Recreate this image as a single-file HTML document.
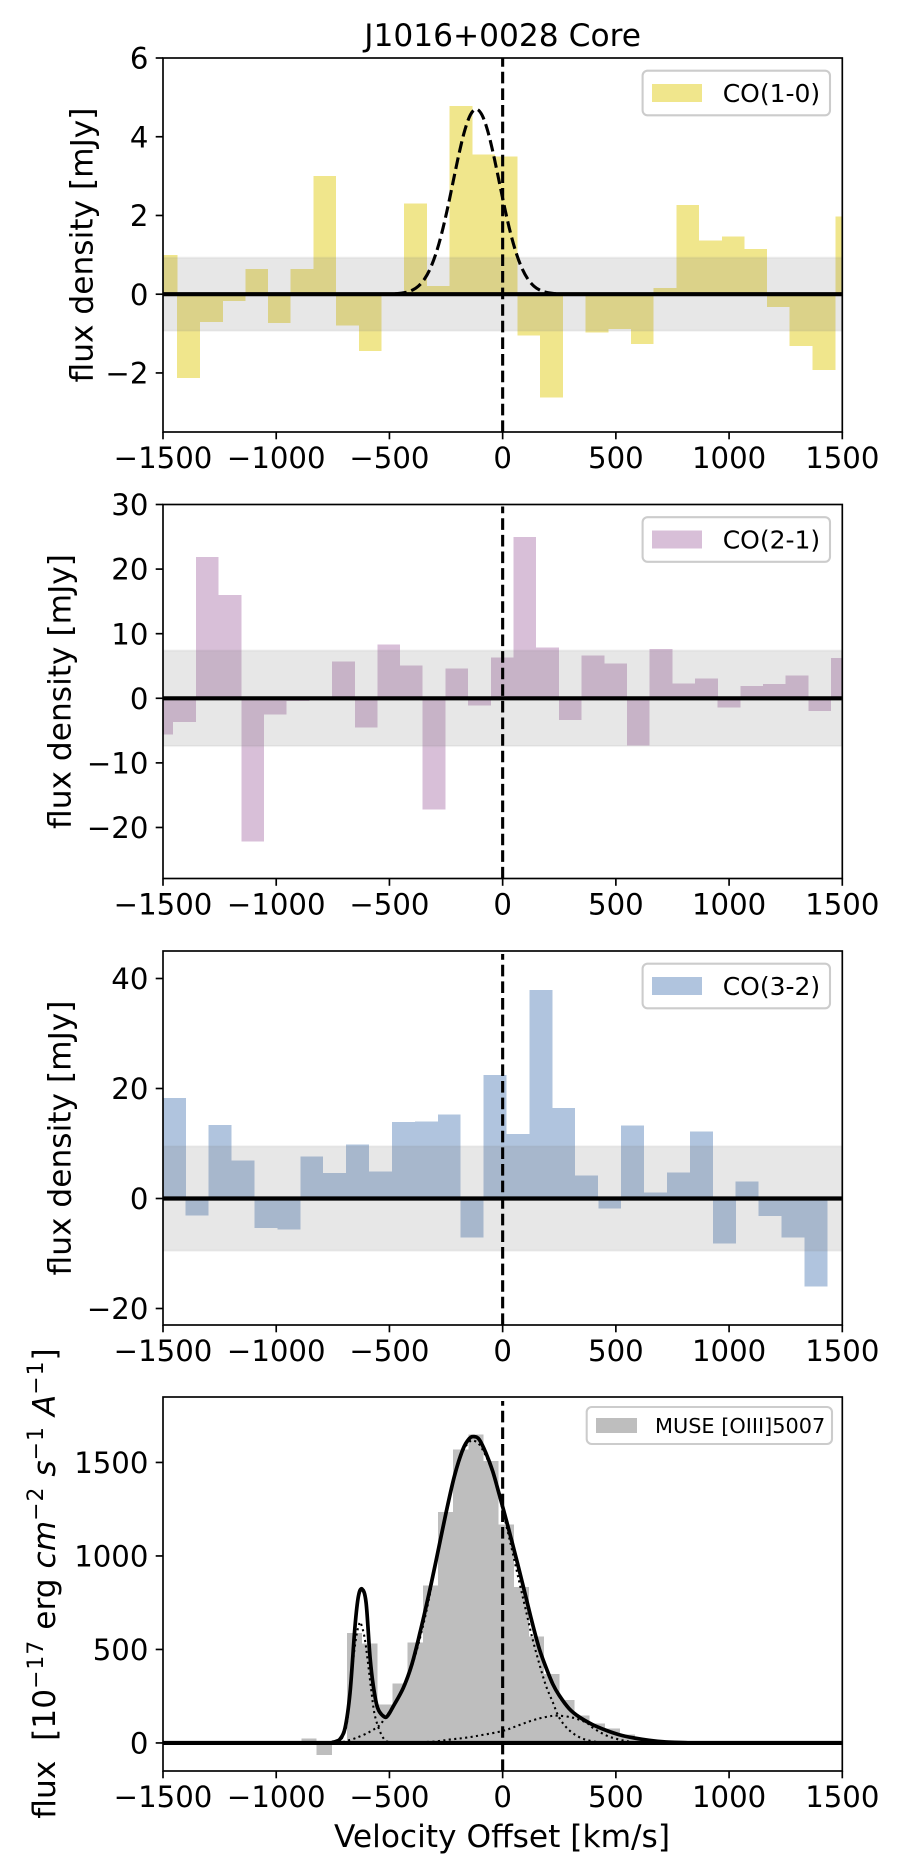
<!DOCTYPE html>
<html lang="en">
<head>
<meta charset="utf-8">
<title>J1016+0028 Core</title>
<style>
html,body{margin:0;padding:0;background:#fff;}
svg{display:block;}
text{font-family:"DejaVu Sans","Liberation Sans",sans-serif;fill:#000;}
</style>
</head>
<body>
<svg id="figure" xmlns="http://www.w3.org/2000/svg" width="900" height="1875" viewBox="0 0 900 1875">
  <rect x="0" y="0" width="900" height="1875" fill="#fff"/>
  <text x="502.6" y="46" font-size="31.25" text-anchor="middle">J1016+0028 Core</text>
  <text transform="translate(92.5,245) rotate(-90)" font-size="31.25" text-anchor="middle">flux density [mJy]</text>
  <text transform="translate(70.4,691.5) rotate(-90)" font-size="31.25" text-anchor="middle">flux density [mJy]</text>
  <text transform="translate(70.4,1138) rotate(-90)" font-size="31.25" text-anchor="middle">flux density [mJy]</text>
  <text transform="translate(55,1583.5) rotate(-90)" font-size="31.25" text-anchor="middle" xml:space="preserve">flux  [10<tspan font-size="21.9" dy="-12" letter-spacing="1">−17</tspan><tspan dy="12"> erg </tspan><tspan font-style="italic">cm</tspan><tspan font-size="21.9" dy="-12" letter-spacing="1">−2</tspan><tspan dy="12"> </tspan><tspan font-style="italic">s</tspan><tspan font-size="21.9" dy="-12" letter-spacing="1">−1</tspan><tspan dy="12"> </tspan><tspan font-style="italic">A</tspan><tspan font-size="21.9" dy="-12" letter-spacing="1">−1</tspan><tspan dy="12">]</tspan></text>
  <text x="502" y="1847" font-size="31.25" text-anchor="middle">Velocity Offset [km/s]</text>
</svg>
<script>
// ---- shared axis data ----
const xTickValues = [-1500, -1000, -500, 0, 500, 1000, 1500];
const xTickLabels = ['−1500', '−1000', '−500', '0', '500', '1000', '1500'];
const xLimits = [-1500, 1500];

// ---- CO(1-0) ----
const co10Velocity = [-1487,-1387,-1286,-1186,-1086,-986,-886,-785,-685,-585,-485,-385,-285,-184,-84,16,116,216,317,417,517,617,717,818,918,1018,1118,1218,1318,1419,1519];
const co10Flux = [1.0,-2.13,-0.7,-0.17,0.64,-0.73,0.64,3.0,-0.8,-1.44,0.02,2.3,0.21,4.78,3.55,3.5,-1.05,-2.63,0,-0.97,-0.88,-1.26,0.16,2.27,1.36,1.46,1.15,-0.32,-1.31,-1.92,1.97];
const co10BinWidth = [100.2];
const co10Noise = [0.93];
const co10YLimits = [-3.5, 6];
const co10YTicks = [-2, 0, 2, 4, 6];
const co10YTickLabels = ['−2', '0', '2', '4', '6'];
const co10FitVelocity = [-1500,-525,-474,-423,-397.5,-372,-346.5,-321,-295.5,-270,-244.5,-219,-193.5,-168,-142.5,-117,-91.5,-66,-40.5,-15,10.5,36,61.5,87,112.5,138,163.5,189,240,291,1500];
const co10FitFlux = [0,0.001,0.01,0.052,0.107,0.206,0.374,0.636,1.017,1.526,2.152,2.851,3.548,4.148,4.555,4.7,4.555,4.148,3.548,2.851,2.152,1.526,1.017,0.636,0.374,0.206,0.107,0.052,0.01,0.001,0];

// ---- CO(2-1) ----
const co21Velocity = [-1505,-1405,-1305,-1204,-1104,-1004,-904,-804,-703,-603,-503,-403,-303,-203,-102,-2,98,198,299,399,499,599,699,800,900,1000,1100,1200,1300,1401,1501];
const co21Flux = [-5.6,-3.7,21.9,16,-22.2,-2.5,-0.4,0,5.7,-4.5,8.3,5.1,-17.2,4.6,-1.1,6.3,25,7.9,-3.4,6.6,5.4,-7.3,7.6,2.3,3.1,-1.4,1.9,2.2,3.5,-2.0,6.2];
const co21BinWidth = [100.2];
const co21Noise = [7.4];
const co21YLimits = [-27.9, 30];
const co21YTicks = [-20, -10, 0, 10, 20, 30];
const co21YTickLabels = ['−20', '−10', '0', '10', '20', '30'];

// ---- CO(3-2) ----
const co32Velocity = [-1450,-1349,-1248,-1147,-1046,-944,-843,-742,-641,-539,-438,-337,-236,-135,-33,68,169,270,371,473,574,675,776,878,979,1080,1181,1282,1384,1485];
const co32Flux = [18.3,-3.1,13.4,6.9,-5.4,-5.6,7.6,4.6,9.8,4.9,13.9,14.0,15.3,-7.1,22.5,11.7,37.9,16.5,4.2,-1.8,13.3,1.1,4.7,12.2,-8.2,3.1,-3.2,-7.1,-16,0.3];
const co32BinWidth = [101.2];
const co32Noise = [9.5];
const co32YLimits = [-23, 45];
const co32YTicks = [-20, 0, 20, 40];
const co32YTickLabels = ['−20', '0', '20', '40'];

// ---- MUSE [OIII]5007 ----
const museVelocity = [-1466,-855,-788,-721,-654,-587,-520,-453,-386,-319,-252,-185,-118,-51,16,83,150,217,284,351,418,485,552,619,686];
const museFlux = [10,23,-64,0,588,531,205,317,538,841,1235,1569,1649,1507,1169,835,569,370,231,147,103,76,44,23,10];
const museBinWidth = [67];
const museYLimits = [-150, 1850];
const museYTicks = [0, 500, 1000, 1500];
const museYTickLabels = ['0', '500', '1000', '1500'];
const museTotalVelocity = [-1500,-800,-750,-735,-718,-696,-674,-652,-637,-621,-603,-586,-571,-552,-522,-505,-483,-439,-401,-365,-325,-294,-250,-213,-176,-147,-125,-103,-74,-44,-15,15,44,74,103,132,162,191,221,250,294,338,397,456,515,574,647,721,794,900,1500];
const museTotalFlux = [0,0,4,9,21,80,269,624,784,823,749,463,303,187,139,150,196,294,420,590,800,975,1231,1427,1569,1628,1638,1622,1551,1453,1329,1196,1063,920,778,636,503,405,316,254,183,139,98,68,44,28,14,5,2,0,0];
const museNarrowVelocity = [-750,-721,-691,-676,-662,-647,-635,-627,-610,-596,-581,-566,-544,-522,-500,-478];
const museNarrowFlux = [0,5,85,245,423,565,630,642,565,441,290,156,68,18,4,0];
const museBroadVelocity = [-706,-647,-588,-544,-522,-471,-426,-382,-338,-294,-250,-213,-176,-147,-129,-103,-74,-44,-15,15,44,74,103,132,162,191,221,250,294,353,426,500];
const museBroadFlux = [5,27,59,94,130,219,325,485,698,965,1222,1418,1557,1610,1617,1596,1534,1445,1320,1169,1018,858,707,556,423,307,219,135,68,23,4,0];
const museWingVelocity = [-456,-309,-235,-162,-88,0,59,132,191,243,309,368,397,456,515,574,632];
const museWingFlux = [0,7,18,28,43,64,89,121,139,146,135,110,82,41,18,5,0];

// ---- layout ----
const AX_LEFT = 163, AX_RIGHT = 842.3, AX_H = 374;
const panelTops = [58, 504.5, 951, 1397];
const NS = 'http://www.w3.org/2000/svg';
const fig = document.getElementById('figure');

function make(tag, attrs, parent) {
  const el = document.createElementNS(NS, tag);
  for (const k in attrs) el.setAttribute(k, attrs[k]);
  (parent || fig).appendChild(el);
  return el;
}
function xScale(v) {
  return AX_LEFT + (v - xLimits[0]) / (xLimits[1] - xLimits[0]) * (AX_RIGHT - AX_LEFT);
}
function yScaleFor(top, lim) {
  return function (val) {
    return top + AX_H - (val - lim[0]) / (lim[1] - lim[0]) * AX_H;
  };
}
function smoothPath(xs, ys, xf, yf) {
  const p = xs.map(function (x, i) { return [xf(x), yf(ys[i])]; });
  let d = 'M' + p[0][0].toFixed(2) + ' ' + p[0][1].toFixed(2);
  for (let i = 0; i < p.length - 1; i++) {
    const a = p[Math.max(0, i - 1)], b = p[i], c = p[i + 1], e = p[Math.min(p.length - 1, i + 2)];
    const long = (c[0] - b[0]) > 60;
    const c1x = long ? b[0] : b[0] + (c[0] - a[0]) / 6, c1y = long ? b[1] : b[1] + (c[1] - a[1]) / 6;
    const c2x = long ? c[0] : c[0] - (e[0] - b[0]) / 6, c2y = long ? c[1] : c[1] - (e[1] - b[1]) / 6;
    d += 'C' + c1x.toFixed(2) + ' ' + c1y.toFixed(2) + ' ' + c2x.toFixed(2) + ' ' + c2y.toFixed(2) + ' ' + c[0].toFixed(2) + ' ' + c[1].toFixed(2);
  }
  return d;
}

function drawBars(g, velocities, fluxes, width, color, yf) {
  velocities.forEach(function (v, i) {
    const x0 = xScale(v - width / 2), x1 = xScale(v + width / 2);
    const y0 = yf(0), y1 = yf(fluxes[i]);
    const bar = make('rect', {x: x0, y: Math.min(y0, y1), width: x1 - x0, height: Math.abs(y1 - y0), fill: color, 'shape-rendering': 'crispEdges'}, g);
    
    
  });
}

function drawNoiseBand(g, noise, yf) {
  const y0 = yf(noise), y1 = yf(-noise);
  const band = make('rect', {x: AX_LEFT, y: y0, width: AX_RIGHT - AX_LEFT, height: y1 - y0, fill: '#808080', 'fill-opacity': 0.19, stroke: '#808080', 'stroke-opacity': 0.09, 'stroke-width': 2.08}, g);
  
  
}

function drawZeroLine(g, yf) {
  const zero = make('line', {x1: AX_LEFT, x2: AX_RIGHT, y1: yf(0), y2: yf(0), stroke: '#000', 'stroke-width': 4.17}, g);
  
  
}

function drawVelocityLine(g, top, yTopOffset) {
  const vl = make('line', {x1: xScale(0), x2: xScale(0), y1: top + AX_H, y2: top + yTopOffset, stroke: '#000', 'stroke-width': 3.1, 'stroke-dasharray': '11.6 5'}, g);
  
  
}

function drawFrame(idx, top, yf, yTicks, yLabels) {
  const frame = make('rect', {x: AX_LEFT, y: top, width: AX_RIGHT - AX_LEFT, height: AX_H, fill: 'none', stroke: '#000', 'stroke-width': 1.67});
  
  
  const bottom = top + AX_H;
  xTickValues.forEach(function (v, i) {
    const tick = make('line', {x1: xScale(v), x2: xScale(v), y1: bottom, y2: bottom + 7.3, stroke: '#000', 'stroke-width': 1.67});
    
    
    const label = make('text', {x: xScale(v), y: bottom + 36, 'font-size': 29.17, 'text-anchor': 'middle'});
    label.textContent = xTickLabels[i];
    
    
  });
  yTicks.forEach(function (val, i) {
    const tick = make('line', {x1: AX_LEFT, x2: AX_LEFT - 7.3, y1: yf(val), y2: yf(val), stroke: '#000', 'stroke-width': 1.67});
    
    
    const label = make('text', {x: AX_LEFT - 14.6, y: yf(val) + 10.6, 'font-size': 29.17, 'text-anchor': 'end'});
    label.textContent = yLabels[i];
    
    
  });
}

function drawLegend(top, offset, boxLeft, boxW, boxH, patchOff, patchW, patchH, textX, fontSize, color, text) {
  const box = make('rect', {x: boxLeft, y: top + offset, width: boxW, height: boxH, rx: 5, ry: 5, fill: '#fff', 'fill-opacity': 0.8, stroke: '#ccc', 'stroke-width': 2.08});
  
  
  const patch = make('rect', {x: boxLeft + patchOff, y: top + offset + (boxH - patchH) / 2, width: patchW, height: patchH, fill: color});
  
  
  const label = make('text', {x: textX, y: top + offset + boxH / 2 + fontSize * 0.36, 'font-size': fontSize});
  label.textContent = text;
  
  
}

function clipGroup(idx, top) {
  const defs = make('defs', {});
  const cp = make('clipPath', {id: 'clip' + idx}, defs);
  make('rect', {x: AX_LEFT, y: top, width: AX_RIGHT - AX_LEFT, height: AX_H}, cp);
  return make('g', {'clip-path': 'url(#clip' + idx + ')'});
}

// Panel 1: CO(1-0)
(function () {
  const top = panelTops[0], yf = yScaleFor(top, co10YLimits), g = clipGroup(0, top);
  
  
  drawBars(g, co10Velocity, co10Flux, co10BinWidth[0], '#f0e68c', yf);
  drawNoiseBand(g, co10Noise[0], yf);
  const fit = make('path', {d: smoothPath(co10FitVelocity, co10FitFlux, xScale, yf), fill: 'none', stroke: '#000', 'stroke-width': 3.1, 'stroke-dasharray': '11.6 5'}, g);
  
  
  drawZeroLine(g, yf);
  drawVelocityLine(g, top, 0);
  drawFrame(0, top, yf, co10YTicks, co10YTickLabels);
  drawLegend(top, 12.7, 642.6, 187.4, 44.6, 9.4, 50, 18, 722.7, 25, '#f0e68c', 'CO(1-0)');
})();

// Panel 2: CO(2-1)
(function () {
  const top = panelTops[1], yf = yScaleFor(top, co21YLimits), g = clipGroup(1, top);
  
  
  drawBars(g, co21Velocity, co21Flux, co21BinWidth[0], '#d8bfd8', yf);
  drawNoiseBand(g, co21Noise[0], yf);
  drawZeroLine(g, yf);
  drawVelocityLine(g, top, 2);
  drawFrame(1, top, yf, co21YTicks, co21YTickLabels);
  drawLegend(top, 12.7, 642.6, 187.4, 44.6, 9.4, 50, 18, 722.7, 25, '#d8bfd8', 'CO(2-1)');
})();

// Panel 3: CO(3-2)
(function () {
  const top = panelTops[2], yf = yScaleFor(top, co32YLimits), g = clipGroup(2, top);
  
  
  drawBars(g, co32Velocity, co32Flux, co32BinWidth[0], '#b0c4de', yf);
  drawNoiseBand(g, co32Noise[0], yf);
  drawZeroLine(g, yf);
  drawVelocityLine(g, top, 3);
  drawFrame(2, top, yf, co32YTicks, co32YTickLabels);
  drawLegend(top, 12.7, 642.6, 187.4, 44.6, 9.4, 50, 18, 722.7, 25, '#b0c4de', 'CO(3-2)');
})();

// Panel 4: MUSE
(function () {
  const top = panelTops[3], yf = yScaleFor(top, museYLimits), g = clipGroup(3, top);
  
  
  drawBars(g, museVelocity, museFlux, museBinWidth[0], '#bebebe', yf);
  const dottedStyle = {fill: 'none', stroke: '#000', 'stroke-width': 2.08, 'stroke-dasharray': '2.1 3.4'};
  const narrow = make('path', Object.assign({d: smoothPath(museNarrowVelocity, museNarrowFlux, xScale, yf)}, dottedStyle), g);
  
  
  const broad = make('path', Object.assign({d: smoothPath(museBroadVelocity, museBroadFlux, xScale, yf)}, dottedStyle), g);
  
  
  const wing = make('path', Object.assign({d: smoothPath(museWingVelocity, museWingFlux, xScale, yf)}, dottedStyle), g);
  
  
  drawZeroLine(g, yf);
  const total = make('path', {d: smoothPath(museTotalVelocity, museTotalFlux, xScale, yf), fill: 'none', stroke: '#000', 'stroke-width': 3.7}, g);
  
  
  drawVelocityLine(g, top, 4);
  drawFrame(3, top, yf, museYTicks, museYTickLabels);
  drawLegend(top, 10, 586.7, 245.3, 37, 9.3, 41, 15, 655, 20.83, '#bebebe', 'MUSE [OIII]5007');
})();
</script>
</body>
</html>
